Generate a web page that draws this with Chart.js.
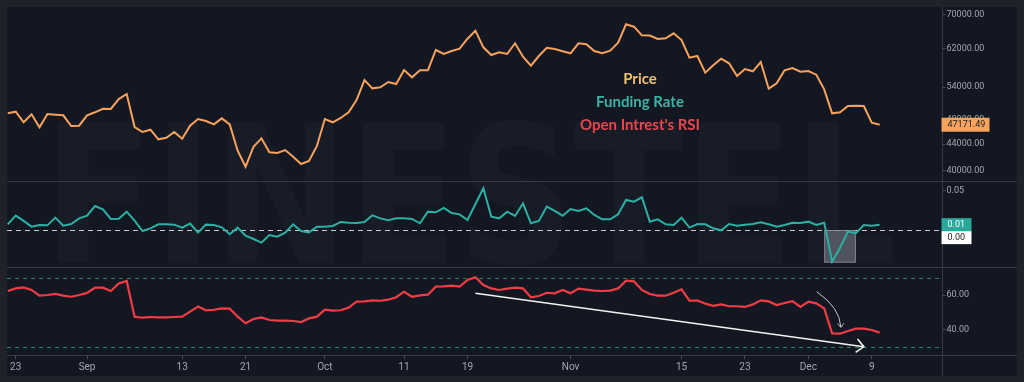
<!DOCTYPE html>
<html>
<head>
<meta charset="utf-8">
<script src="https://cdn.jsdelivr.net/npm/chart.js@4.4.1/dist/chart.umd.min.js"></script>
<style>
html,body{margin:0;padding:0;background:#1f222b;}
#wrap{width:1024px;height:382px;}
</style>
</head>
<body>
<div id="wrap"><canvas id="chart" width="1024" height="382"></canvas></div>
<script>
// daily values, Aug 22 -> Dec 10 (index 0..110)
const price = [49150, 49440, 47590, 48980, 46740, 49030, 48910, 48800, 46960, 47010,
  48800, 49330, 49970, 49920, 51740, 52690, 46790, 45950, 46340, 44760,
  45020, 45950, 44860, 47010, 48150, 47810, 47240, 48270, 47240, 42970,
  40560, 43590, 44920, 42720, 42610, 43070, 42050, 40960, 41400, 43700,
  48150, 47590, 48330, 49330, 51560, 55400, 53770, 53970, 55010, 54610,
  57430, 55950, 57370, 57370, 61720, 60840, 61500, 62010, 64280, 66160,
  62320, 60620, 61210, 60840, 63230, 60250, 58330, 60400, 62230, 61940,
  61430, 60990, 63230, 63000, 61500, 60990, 61560, 63360, 67700, 67120,
  65070, 65000, 64210, 64370, 65540, 63980, 60030, 60400, 56880, 58410,
  59820, 58830, 56210, 57640, 57170, 59110, 53700, 54750, 57370, 57850,
  57080, 57230, 56480, 53580, 49150, 49330, 50460, 50490, 50460, 47520,
  47171.49];

const funding = [0.0072, 0.0182, 0.0115, 0.0042, 0.0064, 0.0059, 0.0157, 0.0055, 0.0076, 0.0148,
  0.0182, 0.0305, 0.0263, 0.0140, 0.0144, 0.0233, 0.0119, -0.0013, 0.0021, 0.0072,
  0.0072, 0.0068, 0.0030, 0.0081, -0.0034, 0.0068, 0.0064, 0.0034, -0.0055, 0.0030,
  -0.0072, -0.0115, -0.0161, -0.0064, -0.0085, -0.0034, 0.0072, -0.0013, -0.0030, 0.0042,
  0.0042, 0.0051, 0.0102, 0.0093, 0.0089, 0.0102, 0.0187, 0.0148, 0.0123, 0.0148,
  0.0148, 0.0140, 0.0085, 0.0233, 0.0225, 0.0280, 0.0216, 0.0199, 0.0127, 0.0331,
  0.0530, 0.0170, 0.0148, 0.0233, 0.0178, 0.0339, 0.0085, 0.0115, 0.0297, 0.0242,
  0.0182, 0.0267, 0.0242, 0.0276, 0.0191, 0.0136, 0.0136, 0.0199, 0.0382, 0.0360,
  0.0416, 0.0106, 0.0136, 0.0072, 0.0064, 0.0157, 0.0030, 0.0076, 0.0072, 0.0021,
  -0.0004, 0.0076, 0.0055, 0.0068, 0.0076, 0.0098, 0.0072, 0.0042, 0.0064, 0.0093,
  0.0089, 0.0106, 0.0064, 0.0093, -0.0403, -0.0225, -0.0021, -0.0042, 0.0064, 0.0055,
  0.0068];

const oiRsi = [62.3, 63.8, 64.4, 62.9, 59.6, 60.0, 60.6, 59.6, 59.0, 60.0,
  61.2, 64.2, 64.2, 62.3, 66.7, 68.1, 47.5, 46.9, 47.3, 47.1,
  47.1, 47.3, 47.5, 50.4, 53.3, 51.2, 51.5, 52.3, 52.1, 47.5,
  43.7, 46.2, 47.1, 45.6, 45.2, 45.2, 45.0, 44.4, 46.5, 47.5,
  51.5, 51.0, 51.2, 52.7, 56.2, 56.3, 56.9, 56.7, 57.3, 58.7,
  61.9, 59.0, 59.8, 60.2, 64.8, 65.0, 65.4, 64.8, 68.7, 70.2,
  65.8, 63.8, 62.9, 63.7, 64.2, 63.8, 58.7, 59.4, 61.3, 61.0,
  62.9, 61.0, 63.7, 63.1, 62.5, 62.3, 62.5, 63.8, 68.3, 67.9,
  62.9, 60.6, 59.6, 59.6, 61.3, 63.3, 56.7, 56.9, 55.0, 53.8,
  54.6, 53.5, 53.5, 53.1, 54.6, 56.9, 56.3, 54.2, 55.4, 56.5,
  53.1, 56.2, 55.2, 52.3, 37.9, 37.7, 39.2, 40.6, 40.6, 39.8,
  38.3];

const xTickIdx = [1, 10, 22, 30, 40, 50, 58, 71, 85, 93, 101, 109];
const xTickLabels = ['23', 'Sep', '13', '21', 'Oct', '11', '19', 'Nov', '15', '23', 'Dec', '9'];
const priceTicks = [40000, 44000, 48000, 54000, 62000, 70000];
const fundingTicks = [0.05];
const rsiTicks = [40, 60];
const rsiBands = [70, 30];

const watermark = 'FINESTEL';
const legendItems = [['Price', '#f0c070'], ['Funding Rate', '#3db3a6'], ["Open Intrest's RSI", '#e8474d']];

// annotations in data units (x = day index, y = RSI value)
const trendArrow = {from: [59, 61], to: [108, 30.2]};
const dropArrow = {from: [102.05, 61.9], ctrl: [105.0, 52.7], to: [105.1, 41.4]};
const fundingBox = {x0: 103, x1: 107, y0: 0, y1: -0.0416};

const pts = arr => arr.map((v, i) => ({x: i, y: v}));
const axisFont = {family: 'Roboto', size: 9};
const axisColor = '#a3a6af';
const lineColor = '#363a45';

const yAxis = (extra) => Object.assign({
  position: 'right',
  stack: 'panes',
  afterFit: s => { s.width = 75.5; },
  grid: {display: true, drawOnChartArea: false, drawTicks: true, tickLength: 4, color: '#4b4f5a'},
  border: {display: false}
}, extra);

const yTicks = {color: axisColor, font: axisFont, padding: 1, autoSkip: false, callback: v => Number(v).toFixed(2)};

function chevron(ctx, tipX, tipY, ang, len, spread) {
  ctx.beginPath();
  ctx.moveTo(tipX - len * Math.cos(ang - spread), tipY - len * Math.sin(ang - spread));
  ctx.lineTo(tipX, tipY);
  ctx.lineTo(tipX - len * Math.cos(ang + spread), tipY - len * Math.sin(ang + spread));
  ctx.stroke();
}

const decor = {
  id: 'decor',
  beforeDraw(chart) {
    const {ctx, chartArea: a} = chart;
    ctx.save();
    ctx.fillStyle = '#131722';
    ctx.fillRect(a.left, a.top, 1017 - a.left, 376 - a.top);

    ctx.font = 'bold 100px "DejaVu Sans"';
    const m = ctx.measureText(watermark);
    const sx = 834 / (m.actualBoundingBoxLeft + m.actualBoundingBoxRight);
    const sy = 145 / m.actualBoundingBoxAscent;
    ctx.translate(58, 263);
    ctx.scale(sx, sy);
    ctx.fillStyle = 'rgba(255,255,255,0.025)';
    ctx.textBaseline = 'alphabetic';
    ctx.fillText(watermark, m.actualBoundingBoxLeft, 0);
    ctx.restore();
  },
  beforeDatasetsDraw(chart) {
    const {ctx, chartArea: a, scales: s} = chart;
    ctx.save();
    // zero line of funding
    ctx.strokeStyle = '#c9ccd3';
    ctx.lineWidth = 1;
    ctx.setLineDash([5, 4]);
    let y = Math.round(s.yF.getPixelForValue(0)) + 0.5;
    ctx.beginPath(); ctx.moveTo(a.left, y); ctx.lineTo(a.right, y); ctx.stroke();
    // rsi bands
    ctx.strokeStyle = '#22845e';
    ctx.setLineDash([4, 4]);
    rsiBands.forEach(v => {
      const yy = Math.round(s.yR.getPixelForValue(v)) + 0.5;
      ctx.beginPath(); ctx.moveTo(a.left, yy); ctx.lineTo(a.right, yy); ctx.stroke();
    });
    ctx.setLineDash([]);
    // highlight box
    const bx0 = s.x.getPixelForValue(fundingBox.x0), bx1 = s.x.getPixelForValue(fundingBox.x1);
    const by0 = s.yF.getPixelForValue(fundingBox.y0), by1 = s.yF.getPixelForValue(fundingBox.y1);
    ctx.fillStyle = 'rgba(118,121,131,0.6)';
    ctx.fillRect(bx0, by0, bx1 - bx0, by1 - by0);
    ctx.strokeStyle = 'rgba(150,153,162,0.7)';
    ctx.strokeRect(bx0 + 0.5, by0 + 0.5, bx1 - bx0 - 1, by1 - by0 - 1);
    ctx.restore();
  },
  afterDatasetsDraw(chart) {
    const {ctx, chartArea: a, scales: s} = chart;
    ctx.save();
    // pane separators and axis line
    ctx.strokeStyle = lineColor;
    ctx.lineWidth = 1;
    [s.yF.top, s.yR.top, a.bottom].forEach(v => {
      const yy = Math.round(v) + 0.5;
      ctx.beginPath(); ctx.moveTo(a.left, yy); ctx.lineTo(1017, yy); ctx.stroke();
    });
    const ax = Math.round(a.right) + 0.5;
    ctx.beginPath(); ctx.moveTo(ax, a.top); ctx.lineTo(ax, 376); ctx.stroke();

    // straight trend arrow
    ctx.strokeStyle = '#f2f2f2';
    ctx.lineWidth = 1.6;
    const tx0 = s.x.getPixelForValue(trendArrow.from[0]), ty0 = s.yR.getPixelForValue(trendArrow.from[1]);
    const tx1 = s.x.getPixelForValue(trendArrow.to[0]), ty1 = s.yR.getPixelForValue(trendArrow.to[1]);
    ctx.beginPath(); ctx.moveTo(tx0, ty0); ctx.lineTo(tx1, ty1); ctx.stroke();
    chevron(ctx, tx1, ty1, Math.atan2(ty1 - ty0, tx1 - tx0), 10, 0.75);

    // curved arrow
    ctx.strokeStyle = '#c4c6cc';
    ctx.lineWidth = 1;
    const cx0 = s.x.getPixelForValue(dropArrow.from[0]), cy0 = s.yR.getPixelForValue(dropArrow.from[1]);
    const cxc = s.x.getPixelForValue(dropArrow.ctrl[0]), cyc = s.yR.getPixelForValue(dropArrow.ctrl[1]);
    const cx1 = s.x.getPixelForValue(dropArrow.to[0]), cy1 = s.yR.getPixelForValue(dropArrow.to[1]);
    ctx.beginPath(); ctx.moveTo(cx0, cy0); ctx.quadraticCurveTo(cxc, cyc, cx1, cy1); ctx.stroke();
    chevron(ctx, cx1, cy1, Math.atan2(cy1 - cyc, cx1 - cxc), 5, 0.7);

    // legend text
    ctx.font = 'bold 15px Lato';
    ctx.textAlign = 'center';
    ctx.textBaseline = 'middle';
    legendItems.forEach(([t, c], i) => {
      ctx.fillStyle = c;
      ctx.fillText(t, 640, 79.5 + i * 23);
    });

    // price badge
    ctx.font = '9px Roboto';
    ctx.textAlign = 'left';
    const last = price[price.length - 1];
    const py = s.yP.getPixelForValue(last);
    ctx.fillStyle = '#f7a35c';
    ctx.fillRect(a.right, py - 7, 48, 14);
    ctx.fillStyle = '#1a1d26';
    ctx.fillText(last.toFixed(2), a.right + 6, py + 0.5);

    // funding badges
    const lastF = funding[funding.length - 1];
    const fy = s.yF.getPixelForValue(lastF);
    ctx.fillStyle = '#2aa89b';
    ctx.fillRect(a.right, fy - 6.5, 30, 13);
    ctx.fillStyle = '#ffffff';
    ctx.fillText(lastF.toFixed(2), a.right + 6, fy + 0.5);
    ctx.fillRect(a.right, fy + 6.5, 30, 13);
    ctx.fillStyle = '#1a1d26';
    ctx.fillText((0).toFixed(2), a.right + 6, fy + 13.5);
    ctx.restore();
  }
};

new Chart(document.getElementById('chart'), {
  type: 'line',
  data: {
    datasets: [
      {data: pts(price), yAxisID: 'yP', borderColor: '#f7a25c', borderWidth: 2, pointRadius: 0, tension: 0},
      {data: pts(funding), yAxisID: 'yF', borderColor: '#2bb0a3', borderWidth: 2, pointRadius: 0, tension: 0},
      {data: pts(oiRsi), yAxisID: 'yR', borderColor: '#f23c45', borderWidth: 2.2, pointRadius: 0, tension: 0}
    ]
  },
  options: {
    responsive: false,
    animation: false,
    devicePixelRatio: 1,
    layout: {padding: {left: 7, top: 7, right: 7, bottom: 6}},
    plugins: {legend: {display: false}, tooltip: {enabled: false}},
    scales: {
      x: {
        type: 'linear', min: -0.1, max: 117.8,
        afterBuildTicks: sc => { sc.ticks = xTickIdx.map(v => ({value: v})); },
        afterFit: sc => { sc.height = 21; },
        grid: {display: true, drawOnChartArea: false, drawTicks: true, tickLength: 4, color: '#4b4f5a'},
        border: {display: false},
        ticks: {color: axisColor, font: {family: 'Roboto', size: 10}, padding: 2, autoSkip: false, maxRotation: 0,
          callback: (v, i) => xTickLabels[i]}
      },
      yP: yAxis({
        type: 'logarithmic', stackWeight: 173.7, min: 38572, max: 72043,
        afterBuildTicks: sc => { sc.ticks = priceTicks.map(v => ({value: v})); },
        ticks: yTicks
      }),
      yF: yAxis({
        type: 'linear', stackWeight: 86.3, min: -0.0471, max: 0.0627,
        afterBuildTicks: sc => { sc.ticks = fundingTicks.map(v => ({value: v})); },
        ticks: yTicks
      }),
      yR: yAxis({
        type: 'linear', stackWeight: 88, min: 25.4, max: 76.15,
        afterBuildTicks: sc => { sc.ticks = rsiTicks.map(v => ({value: v})); },
        ticks: yTicks
      })
    }
  },
  plugins: [decor]
});
</script>
</body>
</html>
